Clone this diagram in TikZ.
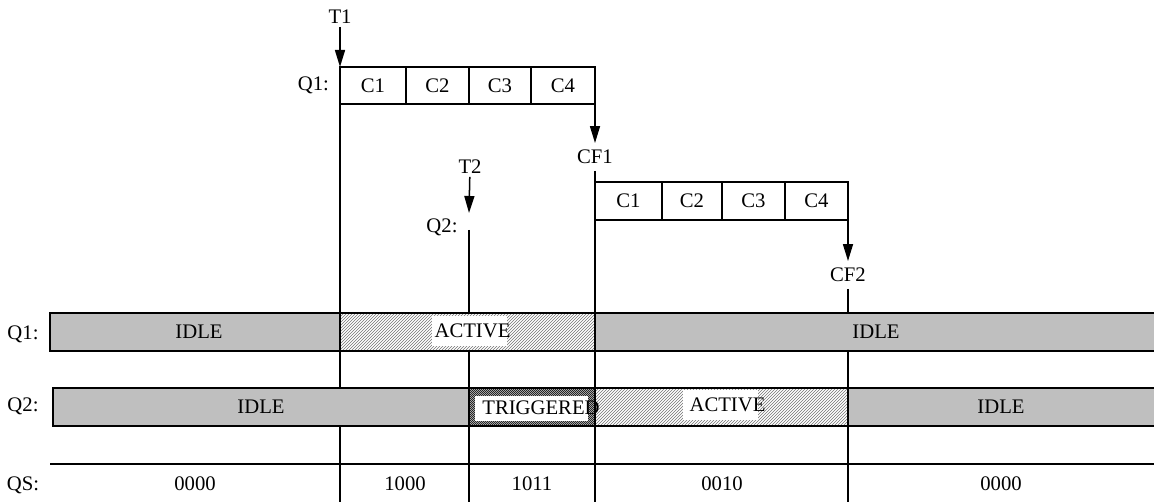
\documentclass[tikz,border=0pt]{standalone}
\usepackage{fontspec}
\setmainfont{Liberation Serif}
\usetikzlibrary{positioning, arrows.meta}

\begin{document}
\begin{tikzpicture}[
  x=1pt, y=-1pt,
  font=\fontsize{20.7}{24}\selectfont,
  cell/.style={draw, line width=1.5pt, outer sep=0pt, inner sep=0pt,
               minimum width=64pt, minimum height=37pt},
  seg/.style={draw, line width=1.5pt, outer sep=0pt, inner sep=0pt,
              minimum height=38pt, anchor=north west},
  idle/.style={fill=black!25},
  active/.style={fill=white, path picture={
      \foreach \i in {-40,-37,...,300}
        \draw[black!55, line width=0.6pt]
          ([xshift=\i pt]path picture bounding box.south west) -- ++(40,-40);}},
  trig/.style={fill=white, path picture={
      \foreach \i in {-40,-38,...,170}
        \draw[black!85, line width=0.8pt]
          ([xshift=\i pt]path picture bounding box.south west) -- ++(40,-40);}},
  tagbox/.style={fill=white, inner sep=0pt, minimum width=75pt, minimum height=30pt},
  tlbl/.style={inner sep=1pt, outer sep=2pt},
  cflbl/.style={inner sep=1pt, outer sep=6pt},
  arr/.style={-{Triangle[length=17pt, width=10pt]}, line width=1.5pt},
  vline/.style={line width=1.5pt},
]
\useasboundingbox (0,0) rectangle (1154,502);

% first queue Q1
\node[cell, anchor=north west, minimum width=66pt] (qa1) at (340,67) {C1};
\node[cell, minimum width=63pt, right=0pt of qa1] (qa2) {C2};
\node[cell, minimum width=62pt, right=0pt of qa2] (qa3) {C3};
\node[cell, minimum width=64pt, right=0pt of qa3] (qa4) {C4};
\node[tlbl, left=8pt of qa1.west] (lq1) {Q1:};
\node[tlbl] (t1) at (340,17) {T1};
\node[cflbl] (cf1) at (595,157) {CF1};

% second queue Q2
\node[cell, anchor=north west, minimum width=67pt, minimum height=38pt] (qb1) at (595,182) {C1};
\node[cell, minimum width=60pt, minimum height=38pt, right=0pt of qb1] (qb2) {C2};
\node[cell, minimum width=63pt, minimum height=38pt, right=0pt of qb2] (qb3) {C3};
\node[cell, minimum width=63pt, minimum height=38pt, right=0pt of qb3] (qb4) {C4};
\node[tlbl] (t2) at (470,167) {T2};
\coordinate (t2tip) at (469,213);
\node[tlbl] (lq2) at (442,227) {Q2:};
\coordinate (q2top) at (469,230);
\node[cflbl] (cf2) at (848,275) {CF2};

\coordinate (bot1) at (340,502);
\coordinate (bot2) at (469,502);
\coordinate (bot3) at (595,502);
\coordinate (bot4) at (848,502);

\draw[arr] (t1) -- (qa1.north west);
\draw[arr] (qa4.south east) -- (cf1);
\draw[arr] (t2) -- (t2tip);
\draw[arr] (qb4.south east) -- (cf2);
\draw[vline] (qa1.north west) -- (bot1);
\draw[vline] (q2top) -- (bot2);
\draw[vline] (cf1) -- (bot3);
\draw[vline] (cf2) -- (bot4);

% state bars
\node[seg, idle, minimum width=290pt] (s1a) at (50,313) {};
\node[seg, active, minimum width=255pt, right=0pt of s1a] (s1b) {};
\node[seg, idle, minimum width=575pt, right=0pt of s1b] (s1c) {};
\node[seg, idle, minimum width=416pt] (s2a) at (53,388) {};
\node[seg, trig, minimum width=126pt, right=0pt of s2a] (s2b) {};
\node[seg, active, minimum width=253pt, right=0pt of s2b] (s2c) {};
\node[seg, idle, minimum width=320pt, right=0pt of s2c] (s2d) {};

\node[tagbox] (w1b) at (469,331.5) {};
\node[tagbox, minimum width=113pt, minimum height=25pt] (w2b) at (531.5,408.5) {};
\node[tagbox] (w2c) at (720,405) {};

\node (n1a) at ([xshift=4pt]s1a) {IDLE};
\node (n1b) at (472.5,331) {ACTIVE};
\node (n1c) at (s1c.center -| 876,0) {IDLE};
\node (n2a) at (s2a) {IDLE};
\node (n2b) at (541,408) {TRIGGERED};
\node (n2c) at (727.5,405) {ACTIVE};
\node (n2d) at (s2d.center -| 1001,0) {IDLE};

% state codes
\coordinate (qs0) at (50,464);
\coordinate (qs1) at (1160,464);
\draw[vline] (qs0) -- (qs1);
\node (v1) at (195,484) {0000};
\node (v2) at (405,484) {1000};
\node (v3) at (532,484) {1011};
\node (v4) at (722,484) {0010};
\node (v5) at (1001,484) {0000};

\node (lr1) at (23,334) {Q1:};
\node (lr2) at (23,406) {Q2:};
\node (lr3) at (23,485) {QS:};
\end{tikzpicture}
\end{document}
